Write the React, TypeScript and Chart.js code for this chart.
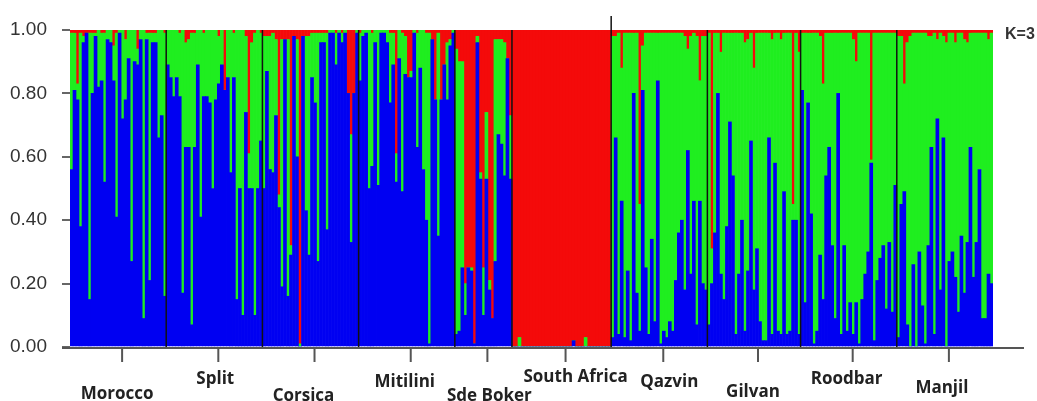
import React, { useEffect, useRef } from "react";
import { Chart, registerables } from "chart.js";

Chart.register(...registerables);

// ---- Population names and Q-matrix (membership proportions for K=3) ----
const populations = ["Morocco", "Split", "Corsica", "Mitilini", "Sde Boker", "South Africa", "Qazvin", "Gilvan", "Roodbar", "Manjil"];

const moroccoBlue = [0.56,0.81,0.78,0.38,0.96,0.99,0.15,0.80,0.98,0.82,0.84,0.52,0.97,0.96,0.84,0.41,0.99,0.72,0.78,0.91,0.27,0.90,0.89,0.97,0.09,0.97,0.21,0.96,0.96,0.66,0.73,0.16];
const moroccoGreen = [0.43,0.18,0.05,0.61,0.02,0.00,0.84,0.19,0.01,0.18,0.15,0.47,0.03,0.04,0.11,0.58,0.01,0.28,0.19,0.09,0.73,0.10,0.05,0.03,0.91,0.02,0.78,0.03,0.03,0.34,0.27,0.83];
const moroccoRed = [0.01,0.01,0.17,0.01,0.02,0.01,0.01,0.01,0.01,0.00,0.01,0.01,0.00,0.00,0.05,0.01,0.00,0.00,0.03,0.00,0.00,0.00,0.06,0.00,0.00,0.01,0.01,0.01,0.01,0.00,0.00,0.01];

const splitBlue = [0.89,0.85,0.79,0.85,0.79,0.17,0.63,0.63,0.07,0.63,0.89,0.41,0.79,0.79,0.77,0.50,0.78,0.83,0.89,0.81,0.85,0.55,0.85,0.15,0.50,0.10,0.74,0.50,0.50,0.10,0.50,0.65];
const splitGreen = [0.11,0.15,0.21,0.15,0.20,0.83,0.33,0.34,0.92,0.36,0.11,0.59,0.20,0.21,0.23,0.50,0.22,0.15,0.11,0.00,0.15,0.45,0.14,0.85,0.50,0.90,0.24,0.11,0.46,0.89,0.50,0.34];
const splitRed = [0,0,0,0,0.01,0,0.04,0.03,0.01,0.01,0,0,0.01,0,0,0,0,0.02,0,0.19,0,0,0.01,0,0,0,0.02,0.39,0.04,0.01,0,0.01];

const corsicaBlue = [0.50,0.87,0.56,0.55,0.73,0.44,0.19,0.97,0.16,0.29,0.98,0.60,0.00,0.98,0.43,0.29,0.85,0.77,0.27,0.96,0.96,0.37,0.99,0.99,0.89,0.99,0.96,0.99,0.80,0.33,0.80,0.99];
const corsicaGreen = [0.48,0.11,0.42,0.44,0.24,0.04,0.78,0.00,0.81,0.03,0.00,0.37,0.01,0.00,0.55,0.69,0.14,0.22,0.72,0.03,0.03,0.62,0.01,0.01,0.10,0.01,0.03,0.01,0.00,0.34,0.00,0.01];
const corsicaRed = [0.02,0.02,0.02,0.01,0.03,0.52,0.03,0.03,0.03,0.68,0.02,0.03,0.99,0.02,0.02,0.02,0.01,0.01,0.01,0.01,0.01,0.01,0,0,0.01,0,0.01,0,0.20,0.33,0.20,0];

const mitiliniBlue = [0.84,0.98,0.99,0.50,0.57,0.96,0.51,0.99,0.99,0.96,0.77,0.89,0.52,0.91,0.49,0.86,0.85,0.85,0.99,0.63,0.88,0.56,0.40,0.01,0.97,0.78,0.35,0.78,0.89,0.78,0.95,0.99];
const mitiliniGreen = [0.15,0.02,0.01,0.50,0.42,0.04,0.49,0.01,0.01,0.04,0.22,0.10,0.09,0.09,0.50,0.12,0.00,0.02,0.01,0.36,0.12,0.44,0.59,0.98,0.00,0.00,0.64,0.00,0.00,0.18,0.02,0.01];
const mitiliniRed = [0.01,0,0,0,0.01,0,0,0,0,0,0.01,0.01,0.39,0,0.01,0.02,0.15,0.13,0,0.01,0,0,0.01,0.01,0.03,0.22,0.01,0.22,0.11,0.04,0.03,0];

const sdeBokerBlue = [0.04,0.05,0.25,0.10,0.25,0.24,0.01,0.96,0.53,0.10,0.53,0.18,0.09,0.27,0.67,0.64,0.54,0.91,0.53];
const sdeBokerGreen = [0.90,0.85,0.65,0.10,0.00,0.01,0.00,0.02,0.02,0.15,0.21,0.03,0.00,0.70,0.30,0.33,0.42,0.00,0.20];
const sdeBokerRed = [0.06,0.10,0.10,0.80,0.75,0.75,0.99,0.02,0.45,0.75,0.26,0.79,0.91,0.03,0.03,0.03,0.04,0.09,0.27];

const southAfricaBlue = [0,0,0,0,0,0,0,0,0,0,0,0,0,0,0,0,0,0,0,0,0.02,0,0,0,0,0,0,0,0,0,0,0,0];
const southAfricaGreen = [0,0,0.03,0,0,0,0,0,0,0,0,0,0,0,0,0,0,0,0,0,0,0,0,0,0.03,0,0,0,0,0,0,0,0];
const southAfricaRed = [1,1,0.97,1,1,1,1,1,1,1,1,1,1,1,1,1,1,1,1,1,0.98,1,1,1,0.97,1,1,1,1,1,1,1,1];

const qazvinBlue = [0.03,0.66,0.04,0.46,0.03,0.24,0.02,0.80,0.17,0.05,0.81,0.25,0.04,0.34,0.08,0.84,0.01,0.05,0.03,0.08,0.05,0.21,0.36,0.40,0.18,0.62,0.23,0.46,0.07,0.46,0.20,0.18];
const qazvinGreen = [0.95,0.32,0.95,0.42,0.96,0.75,0.97,0.19,0.82,0.40,0.14,0.74,0.95,0.65,0.91,0.15,0.98,0.94,0.96,0.91,0.94,0.78,0.63,0.59,0.80,0.32,0.75,0.53,0.91,0.38,0.78,0.80];
const qazvinRed = [0.02,0.02,0.01,0.12,0.01,0.01,0.01,0.01,0.01,0.55,0.05,0.01,0.01,0.01,0.01,0.01,0.01,0.01,0.01,0.01,0.01,0.01,0.01,0.01,0.02,0.06,0.02,0.01,0.02,0.16,0.02,0.02];

const gilvanBlue = [0.07,0.20,0.36,0.80,0.23,0.15,0.38,0.71,0.54,0.04,0.23,0.40,0.05,0.24,0.65,0.18,0.31,0.08,0.02,0.02,0.66,0.04,0.58,0.05,0.04,0.49,0.04,0.05,0.40,0.40,0.04];
const gilvanGreen = [0.92,0.11,0.63,0.19,0.70,0.84,0.61,0.28,0.45,0.95,0.76,0.59,0.91,0.73,0.34,0.70,0.68,0.91,0.97,0.97,0.33,0.93,0.41,0.94,0.93,0.50,0.95,0.94,0.05,0.59,0.89];
const gilvanRed = [0.01,0.69,0.01,0.01,0.07,0.01,0.01,0.01,0.01,0.01,0.01,0.01,0.04,0.03,0.01,0.12,0.01,0.01,0.01,0.01,0.01,0.03,0.01,0.01,0.03,0.01,0.01,0.01,0.55,0.01,0.07];

const roodbarBlue = [0.81,0.14,0.77,0.42,0.01,0.05,0.29,0.15,0.54,0.63,0.32,0.09,0.80,0.04,0.32,0.05,0.14,0.04,0.14,0.01,0.15,0.23,0.30,0.58,0.02,0.21,0.28,0.32,0.12,0.33,0.11,0.51];
const roodbarGreen = [0.18,0.85,0.22,0.57,0.98,0.94,0.69,0.68,0.45,0.36,0.67,0.90,0.19,0.95,0.67,0.94,0.85,0.93,0.76,0.98,0.84,0.76,0.69,0.01,0.97,0.78,0.71,0.67,0.87,0.66,0.88,0.48];
const roodbarRed = [0.01,0.01,0.01,0.01,0.01,0.01,0.02,0.17,0.01,0.01,0.01,0.01,0.01,0.01,0.01,0.01,0.01,0.03,0.10,0.01,0.01,0.01,0.01,0.41,0.01,0.01,0.01,0.01,0.01,0.01,0.01,0.01];

const manjilBlue = [0.03,0.45,0.49,0.07,0.00,0.26,0.00,0.30,0.13,0.01,0.32,0.63,0.04,0.72,0.18,0.66,0.00,0.27,0.30,0.22,0.11,0.35,0.17,0.33,0.63,0.22,0.33,0.56,0.09,0.09,0.23,0.20];
const manjilGreen = [0.95,0.53,0.34,0.89,0.98,0.73,0.99,0.69,0.86,0.98,0.66,0.35,0.95,0.25,0.81,0.32,0.96,0.72,0.69,0.74,0.88,0.64,0.80,0.63,0.36,0.77,0.66,0.43,0.90,0.90,0.74,0.79];
const manjilRed = [0.02,0.02,0.17,0.04,0.02,0.01,0.01,0.01,0.01,0.01,0.02,0.02,0.01,0.03,0.01,0.02,0.04,0.01,0.01,0.04,0.01,0.01,0.03,0.04,0.01,0.01,0.01,0.01,0.01,0.01,0.03,0.01];

const yTicks = [0, 0.2, 0.4, 0.6, 0.8, 1.0];
const kLabel = "K=3";

// ---- styling (not data) ----
const BLUE = "#0000F2";
const GREEN = "#1FEE1F";
const RED = "#F40A0A";
// label baseline y and horizontal nudge for each population label
const labelBaselineY = [399, 384, 401, 387, 401, 382, 387, 397, 384, 393];
const labelDx = [-1, 1, -7, -2, 6, 14, 10, -1, -2, -3];

const popBlue = [moroccoBlue, splitBlue, corsicaBlue, mitiliniBlue, sdeBokerBlue, southAfricaBlue, qazvinBlue, gilvanBlue, roodbarBlue, manjilBlue];
const popGreen = [moroccoGreen, splitGreen, corsicaGreen, mitiliniGreen, sdeBokerGreen, southAfricaGreen, qazvinGreen, gilvanGreen, roodbarGreen, manjilGreen];
const popRed = [moroccoRed, splitRed, corsicaRed, mitiliniRed, sdeBokerRed, southAfricaRed, qazvinRed, gilvanRed, roodbarRed, manjilRed];

export default function App() {
  const canvasRef = useRef<HTMLCanvasElement | null>(null);

  useEffect(() => {
    const canvas = canvasRef.current;
    if (!canvas) return;

    const labels: string[] = [];
    const blue: number[] = [];
    const green: number[] = [];
    const red: number[] = [];
    const starts: number[] = [];
    const counts: number[] = [];
    populations.forEach((p, i) => {
      starts.push(labels.length);
      counts.push(popBlue[i].length);
      popBlue[i].forEach((v, j) => {
        labels.push(p + " " + (j + 1));
        blue.push(v);
        green.push(popGreen[i][j]);
        red.push(popRed[i][j]);
      });
    });

    const structurePlugin = {
      id: "structureDecor",
      afterDraw(chart: any) {
        const ctx = chart.ctx;
        const xs = chart.scales.x;
        const area = chart.chartArea;
        ctx.save();
        // x axis line
        ctx.strokeStyle = "#555";
        ctx.lineWidth = 2;
        ctx.beginPath();
        ctx.moveTo(62, area.bottom + 1);
        ctx.lineTo(1024, area.bottom + 1);
        ctx.stroke();

        // population boundaries
        ctx.strokeStyle = "#111";
        ctx.lineWidth = 1.5;
        for (let i = 1; i < populations.length; i++) {
          const k = starts[i];
          const x = (xs.getPixelForValue(k - 1) + xs.getPixelForValue(k)) / 2;
          ctx.beginPath();
          ctx.moveTo(x, i === 6 ? area.top - 14 : area.top);
          ctx.lineTo(x, area.bottom);
          ctx.stroke();
        }

        // population ticks and labels
        ctx.font = "bold 17px 'Open Sans', 'DejaVu Sans', sans-serif";
        ctx.textAlign = "center";
        ctx.textBaseline = "alphabetic";
        for (let i = 0; i < populations.length; i++) {
          const a = xs.getPixelForValue(starts[i]);
          const b = xs.getPixelForValue(starts[i] + counts[i] - 1);
          const cx = (a + b) / 2 + 4;
          ctx.strokeStyle = "#555";
          ctx.lineWidth = 2;
          ctx.beginPath();
          ctx.moveTo(cx, area.bottom + 1);
          ctx.lineTo(cx, area.bottom + 15);
          ctx.stroke();
          ctx.fillStyle = "#222";
          ctx.fillText(populations[i], cx - 4 + labelDx[i], labelBaselineY[i]);
        }

        // K label
        ctx.font = "bold 16px 'Liberation Sans Narrow', 'Liberation Sans', sans-serif";
        ctx.textAlign = "left";
        ctx.fillStyle = "#333";
        ctx.fillText(kLabel, 1005, 39);
        ctx.restore();
      },
    };

    const chart = new Chart(canvas, {
      type: "bar",
      data: {
        labels,
        datasets: [
          { label: "Cluster 1", data: blue, backgroundColor: BLUE, borderWidth: 0, stack: "q" },
          { label: "Cluster 2", data: green, backgroundColor: GREEN, borderWidth: 0, stack: "q" },
          { label: "Cluster 3", data: red, backgroundColor: RED, borderWidth: 0, stack: "q" },
        ],
      },
      options: {
        responsive: false,
        animation: false,
        layout: { padding: { left: 0, top: 30, right: 44, bottom: 54 } },
        datasets: { bar: { categoryPercentage: 1, barPercentage: 1 } },
        plugins: { legend: { display: false }, tooltip: { enabled: false } },
        scales: {
          x: { display: false, stacked: true },
          y: {
            stacked: true,
            min: 0,
            max: 1,
            afterFit(scale: any) {
              scale.width = 70;
            },
            afterBuildTicks(scale: any) {
              scale.ticks = yTicks.map((v) => ({ value: v }));
            },
            ticks: {
              padding: 15,
              color: "#333",
              font: { family: "'Liberation Sans Narrow', 'Liberation Sans', sans-serif", size: 19 },
              callback: (v: any) => Number(v).toFixed(2),
            },
            grid: { display: true, drawOnChartArea: false, drawTicks: true, tickLength: 8, color: "#666", lineWidth: 2 },
            border: { display: false },
          },
        },
      },
      plugins: [structurePlugin],
    });

    return () => chart.destroy();
  }, []);

  return (
    <div style={{ position: "absolute", left: 0, top: 0, width: 1037, height: 401, background: "#fff" }}>
      <canvas ref={canvasRef} width={1037} height={401} />
    </div>
  );
}
